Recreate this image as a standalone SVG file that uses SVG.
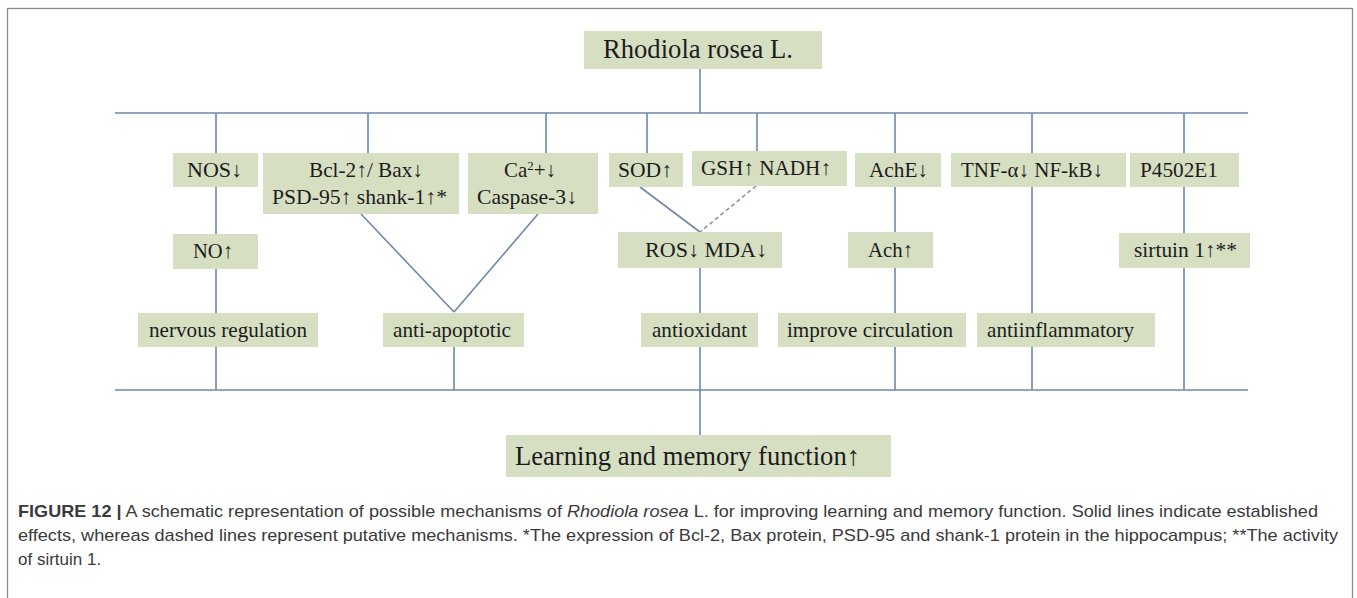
<svg xmlns="http://www.w3.org/2000/svg" width="1357" height="598" viewBox="0 0 1357 598">
<style>
.box{fill:#d7dfc2}
.t{font-family:"Liberation Serif","Times New Roman",serif;font-size:21px;fill:#1c1c1c;text-anchor:middle}
.big{font-size:27px}
.ln{stroke:#6d88a8;stroke-width:1.6;fill:none}
.dash{stroke:#8a93a3;stroke-width:1.6;stroke-dasharray:4 3;fill:none}
.cap{font-family:"Liberation Sans",Arial,sans-serif;font-size:17px;fill:#3a3a3a}
</style>
<rect x="7.5" y="8.5" width="1345" height="600" fill="#fff" stroke="#8c8c8c" stroke-width="1.3"/>
<g id="connectors">
<line class="ln" x1="700" y1="69" x2="700" y2="113"/>
<line class="ln" x1="115" y1="113" x2="1248" y2="113"/>
<line class="ln" x1="216" y1="113" x2="216" y2="153"/>
<line class="ln" x1="368" y1="113" x2="368" y2="153"/>
<line class="ln" x1="546" y1="113" x2="546" y2="153"/>
<line class="ln" x1="647" y1="113" x2="647" y2="153"/>
<line class="ln" x1="757" y1="113" x2="757" y2="151"/>
<line class="ln" x1="895" y1="113" x2="895" y2="153"/>
<line class="ln" x1="1032" y1="113" x2="1032" y2="153"/>
<line class="ln" x1="1184" y1="113" x2="1184" y2="153"/>
<line class="ln" x1="216" y1="187" x2="216" y2="390"/>
<line class="ln" x1="361" y1="214" x2="454" y2="312"/>
<line class="ln" x1="538" y1="214" x2="454" y2="312"/>
<line class="ln" x1="454" y1="347" x2="454" y2="390"/>
<line class="ln" x1="640" y1="187" x2="700" y2="232"/>
<line class="dash" x1="756" y1="186" x2="700" y2="232"/>
<line class="ln" x1="700" y1="268" x2="700" y2="435"/>
<line class="ln" x1="895" y1="187" x2="895" y2="390"/>
<line class="ln" x1="1032" y1="187" x2="1032" y2="390"/>
<line class="ln" x1="1184" y1="187" x2="1184" y2="390"/>
<line class="ln" x1="115" y1="390" x2="1248" y2="390"/>
</g>
<g id="rhodiola"><rect class="box" x="584" y="31" width="238" height="38"/><text class="t big" x="698" y="58" textLength="190" lengthAdjust="spacingAndGlyphs">Rhodiola rosea L.</text></g>
<g id="nos"><rect class="box" x="173" y="153" width="85" height="34"/><text class="t" x="214.5" y="177" textLength="55" lengthAdjust="spacingAndGlyphs">NOS↓</text></g>
<g id="bcl"><rect class="box" x="263" y="153" width="196" height="61"/><text class="t" x="366" y="177" textLength="114" lengthAdjust="spacingAndGlyphs">Bcl-2↑/ Bax↓</text><text class="t" x="359.5" y="204" textLength="175" lengthAdjust="spacingAndGlyphs">PSD-95↑ shank-1↑*</text></g>
<g id="ca"><rect class="box" x="468" y="153" width="130" height="61"/><text class="t" x="530" y="177">Ca<tspan font-size="13" dy="-7">2</tspan><tspan dy="7">+↓</tspan></text><text class="t" x="527" y="204" textLength="100" lengthAdjust="spacingAndGlyphs">Caspase-3↓</text></g>
<g id="sod"><rect class="box" x="609" y="153" width="74" height="34"/><text class="t" x="645" y="177" textLength="54" lengthAdjust="spacingAndGlyphs">SOD↑</text></g>
<g id="gsh"><rect class="box" x="692" y="151" width="155" height="35"/><text class="t" x="766" y="175" textLength="130" lengthAdjust="spacingAndGlyphs">GSH↑ NADH↑</text></g>
<g id="ache"><rect class="box" x="855" y="153" width="86" height="34"/><text class="t" x="898.5" y="177" textLength="59" lengthAdjust="spacingAndGlyphs">AchE↓</text></g>
<g id="tnf"><rect class="box" x="951" y="153" width="175" height="34"/><text class="t" x="1032" y="177" textLength="142" lengthAdjust="spacingAndGlyphs">TNF-α↓ NF-kB↓</text></g>
<g id="p450"><rect class="box" x="1130" y="153" width="109" height="34"/><text class="t" x="1179" y="177" textLength="78" lengthAdjust="spacingAndGlyphs">P4502E1</text></g>
<g id="no"><rect class="box" x="173" y="234" width="85" height="35"/><text class="t" x="213" y="258" textLength="40" lengthAdjust="spacingAndGlyphs">NO↑</text></g>
<g id="ros"><rect class="box" x="618" y="232" width="164" height="36"/><text class="t" x="706" y="257" textLength="122" lengthAdjust="spacingAndGlyphs">ROS↓  MDA↓</text></g>
<g id="ach"><rect class="box" x="848" y="232" width="85" height="36"/><text class="t" x="890.5" y="257" textLength="45" lengthAdjust="spacingAndGlyphs">Ach↑</text></g>
<g id="sirtuin"><rect class="box" x="1119" y="233" width="131" height="35"/><text class="t" x="1185.5" y="257" textLength="103" lengthAdjust="spacingAndGlyphs">sirtuin 1↑**</text></g>
<g id="nervous"><rect class="box" x="138" y="313" width="180" height="34"/><text class="t" x="228" y="337" textLength="158" lengthAdjust="spacingAndGlyphs">nervous regulation</text></g>
<g id="antiapoptotic"><rect class="box" x="383" y="313" width="141" height="34"/><text class="t" x="452" y="337" textLength="118" lengthAdjust="spacingAndGlyphs">anti-apoptotic</text></g>
<g id="antioxidant"><rect class="box" x="641" y="313" width="117" height="34"/><text class="t" x="699.5" y="337" textLength="95" lengthAdjust="spacingAndGlyphs">antioxidant</text></g>
<g id="circulation"><rect class="box" x="778" y="313" width="188" height="34"/><text class="t" x="870" y="337" textLength="166" lengthAdjust="spacingAndGlyphs">improve circulation</text></g>
<g id="antiinflammatory"><rect class="box" x="977" y="313" width="178" height="34"/><text class="t" x="1060.5" y="337" textLength="147" lengthAdjust="spacingAndGlyphs">antiinflammatory</text></g>
<g id="learning"><rect class="box" x="506" y="435" width="385" height="42"/><text class="t big" x="687.5" y="465" textLength="345" lengthAdjust="spacingAndGlyphs">Learning and memory function↑</text></g>
<g id="caption">
<text class="cap" x="18" y="517" textLength="1300" lengthAdjust="spacingAndGlyphs"><tspan font-weight="bold">FIGURE 12 |</tspan> A schematic representation of possible mechanisms of <tspan font-style="italic">Rhodiola rosea</tspan> L. for improving learning and memory function. Solid lines indicate established</text>
<text class="cap" x="18" y="541" textLength="1320" lengthAdjust="spacingAndGlyphs">effects, whereas dashed lines represent putative mechanisms. *The expression of Bcl-2, Bax protein, PSD-95 and shank-1 protein in the hippocampus; **The activity</text>
<text class="cap" x="18" y="565">of sirtuin 1.</text>
</g>
</svg>
